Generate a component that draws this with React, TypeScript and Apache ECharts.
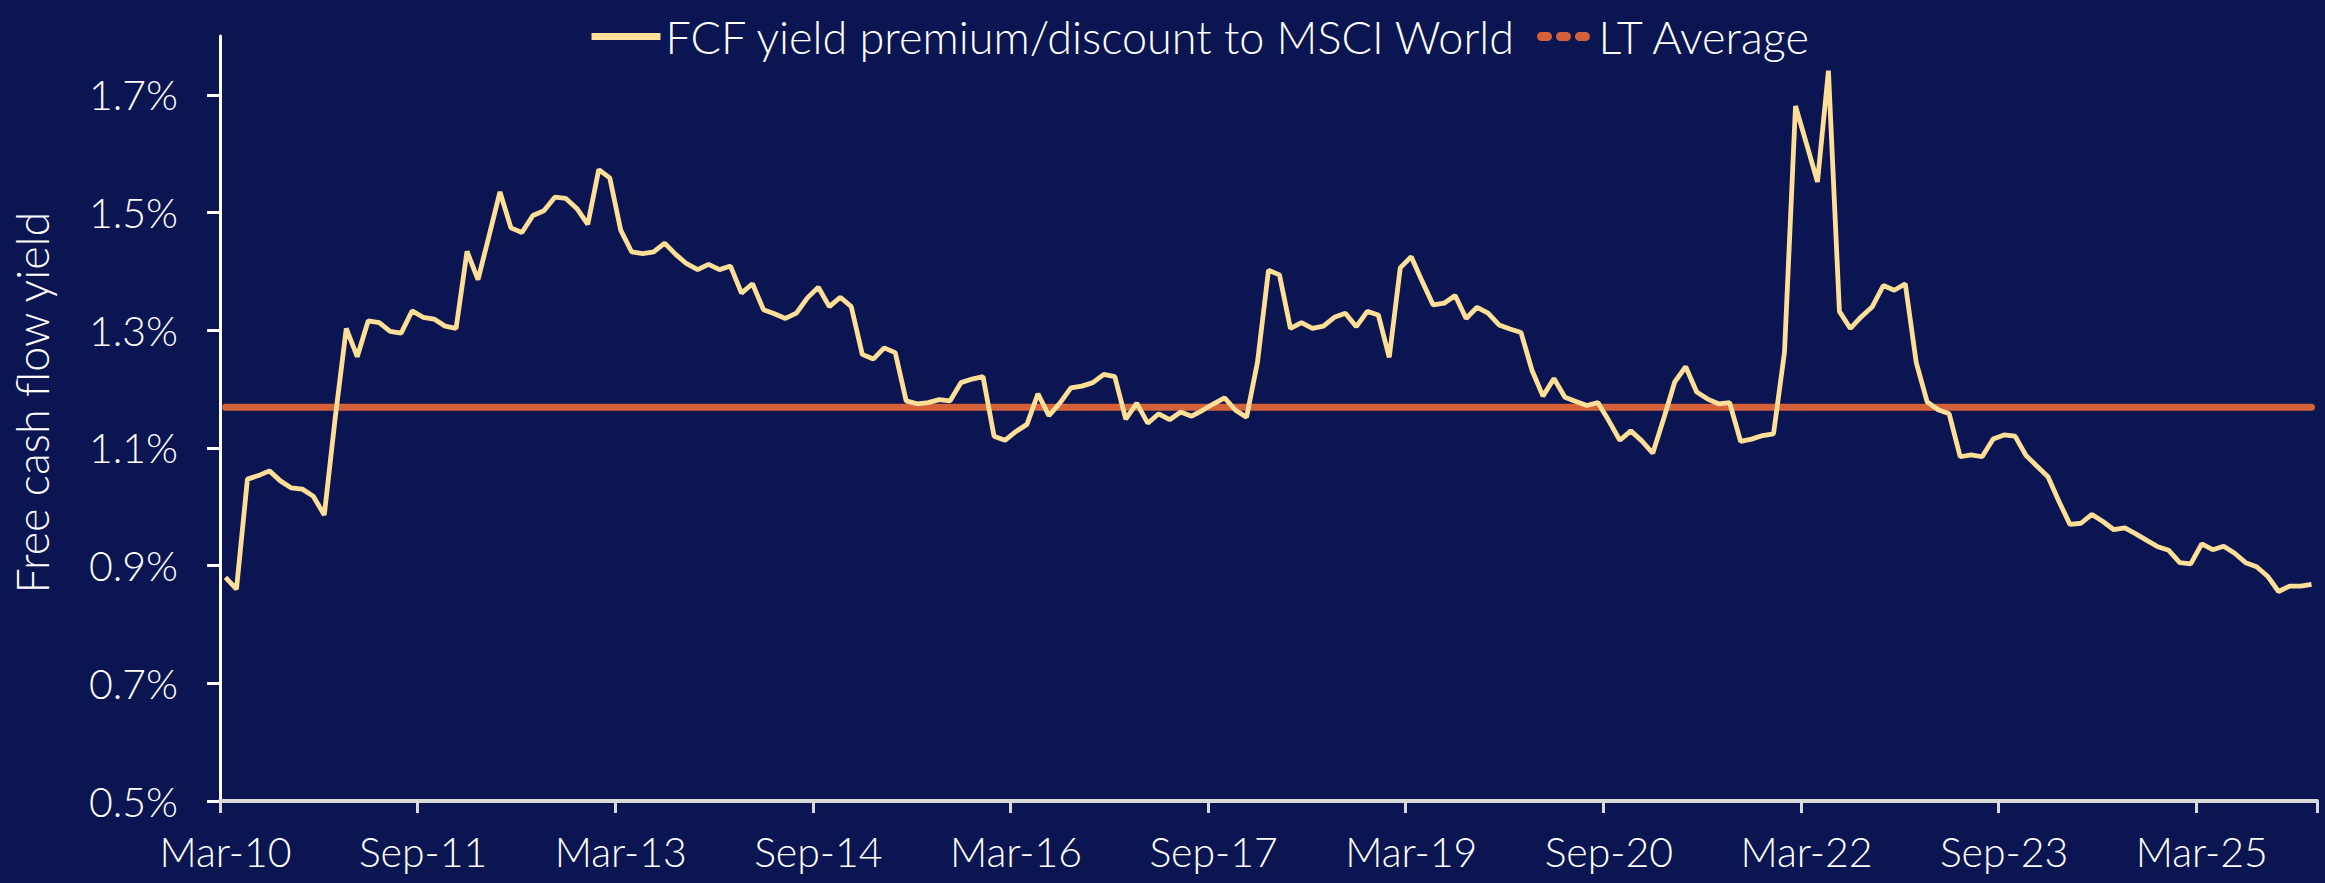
import React, { useEffect, useRef } from "react";
import * as echarts from "echarts";

// Monthly observations starting Mar-2010
const START_YEAR = 2010;
const START_MONTH = 2; // March (0-based)
const MONTH_NAMES = ["Jan", "Feb", "Mar", "Apr", "May", "Jun", "Jul", "Aug", "Sep", "Oct", "Nov", "Dec"];

// FCF yield premium/discount to MSCI World (%)
const FCF_PREMIUM: number[] = [
  0.88, 0.86, 1.047, 1.053, 1.061, 1.044, 1.032, 1.03, 1.018, 0.986,
  1.152, 1.303, 1.255, 1.316, 1.313, 1.298, 1.295, 1.333, 1.322, 1.319,
  1.307, 1.303, 1.434, 1.386, 1.46, 1.535, 1.474, 1.466, 1.495, 1.503,
  1.526, 1.524, 1.507, 1.48, 1.573, 1.559, 1.47, 1.433, 1.43, 1.433,
  1.448, 1.429, 1.413, 1.403, 1.412, 1.403, 1.409, 1.363, 1.379, 1.335,
  1.328, 1.32, 1.329, 1.355, 1.373, 1.34, 1.356, 1.34, 1.259, 1.251,
  1.27, 1.262, 1.18, 1.175, 1.177, 1.182, 1.18, 1.211, 1.217, 1.221,
  1.12, 1.113, 1.128, 1.14, 1.192, 1.155, 1.176, 1.202, 1.205, 1.211,
  1.225, 1.221, 1.149, 1.176, 1.142, 1.158, 1.148, 1.161, 1.154, 1.164,
  1.175, 1.185, 1.164, 1.152, 1.246, 1.402, 1.394, 1.303, 1.313, 1.303,
  1.307, 1.322, 1.329, 1.306, 1.332, 1.326, 1.254, 1.406, 1.425, 1.383,
  1.343, 1.346, 1.359, 1.32, 1.339, 1.329, 1.309, 1.302, 1.296, 1.232,
  1.188, 1.218, 1.186, 1.179, 1.172, 1.177, 1.146, 1.113, 1.129, 1.112,
  1.091, 1.15, 1.212, 1.238, 1.195, 1.183, 1.175, 1.177, 1.111, 1.115,
  1.121, 1.124, 1.263, 1.681, 1.617, 1.552, 1.741, 1.332, 1.303, 1.323,
  1.34, 1.376, 1.368, 1.379, 1.245, 1.178, 1.165, 1.158, 1.085, 1.088,
  1.085, 1.115, 1.122, 1.12, 1.087, 1.069, 1.051, 1.009, 0.97, 0.972,
  0.987, 0.975, 0.961, 0.964, 0.954, 0.943, 0.932, 0.926, 0.905, 0.903,
  0.937, 0.927, 0.933, 0.921, 0.905, 0.898, 0.882, 0.856, 0.865, 0.865,
  0.868,
];

// Long-term average (%)
const LT_AVERAGE = 1.169;

// Y-axis tick labels (%)
const Y_TICKS: number[] = [0.5, 0.7, 0.9, 1.1, 1.3, 1.5, 1.7];
const Y_MIN = 0.5;
const Y_MAX = 1.8;

const SERIES_FCF = "FCF yield premium/discount to MSCI World";
const SERIES_LT = "LT Average";
const Y_TITLE = "Free cash flow yield";

const categories: string[] = FCF_PREMIUM.map((_, i) => {
  const k = START_MONTH + i;
  const m = k % 12;
  const y = START_YEAR + Math.floor(k / 12);
  return `${MONTH_NAMES[m]}-${String(y % 100).padStart(2, "0")}`;
});

const FONT = "Lato, 'Noto Sans', sans-serif";
const YELLOW = "#fedf97";
const ORANGE = "#d4613a";
const BG = "#0b1552";
const HIDDEN_SYMBOL = { color: "rgba(0,0,0,0)", opacity: 0, borderWidth: 0 };

export default function App() {
  const ref = useRef<HTMLDivElement>(null);

  useEffect(() => {
    if (!ref.current) return;
    const chart = echarts.init(ref.current, null, { renderer: "svg" });
    chart.setOption({
      animation: false,
      backgroundColor: BG,
      textStyle: { fontFamily: FONT, color: "#ffffff" },
      legend: [
        {
          data: [SERIES_FCF],
          left: 583,
          top: 9,
          itemWidth: 69,
          itemHeight: 20,
          itemStyle: HIDDEN_SYMBOL,
          lineStyle: { width: 7, cap: "butt", color: YELLOW },
          textStyle: { color: "#ffffff", fontSize: 45, fontFamily: FONT, fontWeight: 300 },
        },
        {
          data: [SERIES_LT],
          left: 1532,
          top: 9,
          itemWidth: 52,
          itemHeight: 20,
          itemStyle: HIDDEN_SYMBOL,
          lineStyle: { width: 9, type: [6, 13], cap: "round", color: ORANGE },
          textStyle: { color: "#ffffff", fontSize: 45, fontFamily: FONT, fontWeight: 300 },
        },
      ],
      grid: { left: 220, right: 8, top: 36, bottom: 82, containLabel: false },
      xAxis: {
        type: "category",
        data: categories,
        boundaryGap: true,
        axisLine: { show: true, lineStyle: { color: "#d9d9d9", width: 4 } },
        axisTick: { show: true, length: 12, lineStyle: { color: "#d9d9d9", width: 3 } },
        axisLabel: {
          interval: 17,
          color: "#ffffff",
          fontSize: 41,
          fontFamily: FONT,
          fontWeight: 300,
          margin: 30,
        },
        splitLine: { show: false },
      },
      yAxis: {
        type: "value",
        min: Y_MIN,
        max: Y_MAX,
        name: Y_TITLE,
        nameLocation: "middle",
        nameRotate: 90,
        nameGap: 166,
        nameTextStyle: { color: "#ffffff", fontSize: 45, fontFamily: FONT, fontWeight: 300, padding: [0, 0, 0, 32] },
        axisLine: { show: true, lineStyle: { color: "#ffffff", width: 3 } },
        axisTick: { show: true, length: 13, lineStyle: { color: "#ffffff", width: 3 }, customValues: Y_TICKS },
        axisLabel: {
          color: "#ffffff",
          fontSize: 41,
          fontFamily: FONT,
          fontWeight: 300,
          margin: 42,
          customValues: Y_TICKS,
          formatter: (v: number) => `${v.toFixed(1)}%`,
        },
        splitLine: { show: false },
      },
      series: [
        {
          name: SERIES_LT,
          type: "line",
          data: categories.map(() => LT_AVERAGE),
          showSymbol: false,
          symbol: "none",
          z: 2,
          lineStyle: { color: ORANGE, width: 7, cap: "round" },
          itemStyle: { color: ORANGE },
        },
        {
          name: SERIES_FCF,
          type: "line",
          data: FCF_PREMIUM,
          showSymbol: false,
          symbol: "none",
          z: 3,
          lineStyle: { color: YELLOW, width: 4.8 },
          itemStyle: { color: YELLOW },
        },
      ],
    });
    return () => chart.dispose();
  }, []);

  return (
    <div
      ref={ref}
      style={{ position: "fixed", left: 0, top: 0, width: 2325, height: 883 }}
    />
  );
}
